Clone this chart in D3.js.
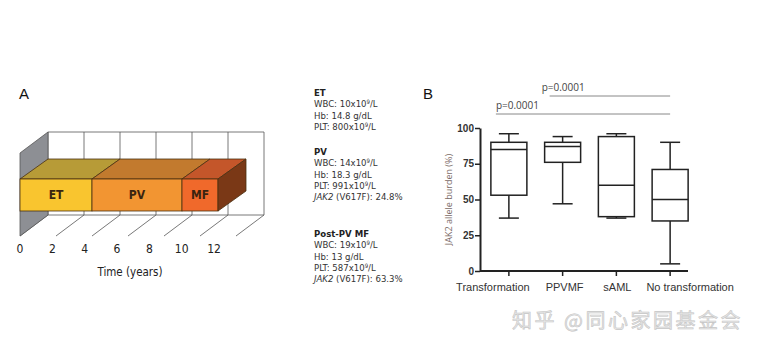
<!DOCTYPE html>
<html>
<head>
<meta charset="utf-8">
<script src="https://cdn.jsdelivr.net/npm/d3@7"></script>
<style>
  body { margin: 0; background: #fff; }
  svg { display: block; }
  .narrow { font-family: 'DejaVu Sans Condensed', 'DejaVu Sans', sans-serif; font-stretch: condensed; }
</style>
</head>
<body>
<script>
// chart size
var w = 759;
var h = 352;

// Panel A data: disease timeline (years)
var phases = ["ET", "PV", "MF"];
var phaseStart = [0, 4, 9];
var phaseEnd = [4, 9, 11];
var timeTicks = [0, 2, 4, 6, 8, 10, 12];

// Panel A side notes
var noteTitles = ["ET", "PV", "Post-PV MF"];
var noteWBC = ["10", "14", "19"];
var noteHb = ["14.8", "18.3", "13"];
var notePLT = ["800", "991", "587"];
var noteJAK2 = [null, "24.8%", "63.3%"];

// Panel B data: JAK2 allele burden box plots
var groups = ["Transformation", "PPVMF", "sAML", "No transformation"];
var whiskLow = [37, 47, 37, 5];
var q1 = [53, 76, 38, 35];
var median = [85, 87, 60, 50];
var q3 = [90, 90, 94, 71];
var whiskHigh = [96, 94, 96, 90];
var yTicks = [0, 25, 50, 75, 100];
var pLabels = ["p=0.0001", "p=0.0001"];
var pFrom = ["PPVMF", "Transformation"];
var pTo = ["No transformation", "No transformation"];

var sans = "'Liberation Sans', Arial, sans-serif";

var svg = d3.select("body")
  .append("svg")
  .attr("width", w)
  .attr("height", h);

svg.append("rect").attr("width", w).attr("height", h).attr("fill", "#fff");

// ---------------- Panel A ----------------
var gA = svg.append("g");

gA.append("text")
  .attr("x", 19).attr("y", 99)
  .attr("font-family", sans).attr("font-size", "15px")
  .attr("fill", "#111")
  .text("A");

var xA = d3.scaleLinear().domain([0, 12]).range([20, 236]);
var xLab = d3.scaleLinear().domain([0, 12]).range([20, 214]);
var dx = 28, dy = -20;
var wallTop = 132, floorBack = 215, floorFront = 236;
var barTop = 179, barBot = 211;
var gridCol = "#555";

// back wall verticals
gA.selectAll("line.vgrid")
  .data(timeTicks)
  .enter()
  .append("line")
  .attr("class", "vgrid")
  .attr("x1", function(d) { return xA(d) + dx; })
  .attr("x2", function(d) { return xA(d) + dx; })
  .attr("y1", wallTop)
  .attr("y2", floorBack)
  .attr("stroke", gridCol)
  .attr("stroke-width", 0.8);

gA.append("line")
  .attr("x1", xA(0) + dx).attr("x2", xA(12) + dx)
  .attr("y1", wallTop).attr("y2", wallTop)
  .attr("stroke", gridCol).attr("stroke-width", 0.8);

gA.append("line")
  .attr("x1", xA(0) + dx).attr("x2", xA(12) + dx)
  .attr("y1", floorBack).attr("y2", floorBack)
  .attr("stroke", gridCol).attr("stroke-width", 0.8);

// floor diagonals
gA.selectAll("line.floor")
  .data(timeTicks)
  .enter()
  .append("line")
  .attr("class", "floor")
  .attr("x1", function(d) { return xA(d); })
  .attr("x2", function(d) { return xA(d) + dx; })
  .attr("y1", floorFront)
  .attr("y2", floorBack)
  .attr("stroke", gridCol)
  .attr("stroke-width", 0.8);

// left side wall
gA.append("polygon")
  .attr("points", [[xA(0), wallTop - dy + 1], [xA(0) + dx, wallTop], [xA(0) + dx, floorBack], [xA(0), floorFront]].join(" "))
  .attr("fill", "#8d8f94")
  .attr("stroke", "#555")
  .attr("stroke-width", 0.8);

var frontCol = ["#f9c52f", "#f29532", "#f0692b"];
var topCol = ["#b79b37", "#c27a2e", "#c4562a"];
var sideCol = "#7a3816";
var edge = "#4a3010";

// bar tops
gA.selectAll("polygon.top")
  .data(phases)
  .enter()
  .append("polygon")
  .attr("class", "top")
  .attr("points", function(d, i) {
    var a = xA(phaseStart[i]), b = xA(phaseEnd[i]);
    return [[a, barTop], [b, barTop], [b + dx, barTop + dy], [a + dx, barTop + dy]].join(" ");
  })
  .attr("fill", function(d, i) { return topCol[i]; })
  .attr("stroke", edge)
  .attr("stroke-width", 0.8);

// bar fronts
gA.selectAll("rect.front")
  .data(phases)
  .enter()
  .append("rect")
  .attr("class", "front")
  .attr("x", function(d, i) { return xA(phaseStart[i]); })
  .attr("y", barTop)
  .attr("width", function(d, i) { return xA(phaseEnd[i]) - xA(phaseStart[i]); })
  .attr("height", barBot - barTop)
  .attr("fill", function(d, i) { return frontCol[i]; })
  .attr("stroke", edge)
  .attr("stroke-width", 0.8);

// right side of last bar
var lastEnd = xA(phaseEnd[phaseEnd.length - 1]);
gA.append("polygon")
  .attr("points", [[lastEnd, barTop], [lastEnd + dx, barTop + dy], [lastEnd + dx, barBot + dy], [lastEnd, barBot]].join(" "))
  .attr("fill", sideCol)
  .attr("stroke", edge)
  .attr("stroke-width", 0.8);

gA.selectAll("text.phase")
  .data(phases)
  .enter()
  .append("text")
  .attr("class", "phase narrow")
  .attr("x", function(d, i) { return (xA(phaseStart[i]) + xA(phaseEnd[i])) / 2; })
  .attr("y", (barTop + barBot) / 2 + 4)
  .attr("text-anchor", "middle")
  .attr("font-weight", "bold")
  .attr("font-size", "12px")
  .attr("fill", "#3a2410")
  .text(function(d) { return d; });

gA.selectAll("text.tick")
  .data(timeTicks)
  .enter()
  .append("text")
  .attr("class", "tick narrow")
  .attr("x", function(d) { return xLab(d); })
  .attr("y", 253)
  .attr("text-anchor", "middle")
  .attr("font-size", "12px")
  .attr("fill", "#222")
  .text(function(d) { return d; });

gA.append("text")
  .attr("class", "narrow")
  .attr("x", 130).attr("y", 276)
  .attr("text-anchor", "middle")
  .attr("font-size", "11.5px")
  .attr("fill", "#222")
  .text("Time (years)");

// side notes
var noteTop = [96, 155, 237];
var lh = 11.3;
noteTitles.forEach(function(t, i) {
  var g = gA.append("text")
    .attr("class", "narrow")
    .attr("font-size", "9.5px")
    .attr("fill", "#333");
  var y0 = noteTop[i];
  g.append("tspan").attr("x", 314).attr("y", y0)
    .attr("font-weight", "bold").attr("fill", "#222").text(t);
  var wl = g.append("tspan").attr("x", 314).attr("y", y0 + lh);
  wl.append("tspan").text("WBC: " + noteWBC[i] + "x10");
  wl.append("tspan").attr("dy", -3).attr("font-size", "6px").text("9");
  wl.append("tspan").attr("dy", 3).text("/L");
  g.append("tspan").attr("x", 314).attr("y", y0 + 2 * lh).text("Hb: " + noteHb[i] + " g/dL");
  var pl = g.append("tspan").attr("x", 314).attr("y", y0 + 3 * lh);
  pl.append("tspan").text("PLT: " + notePLT[i] + "x10");
  pl.append("tspan").attr("dy", -3).attr("font-size", "6px").text("9");
  pl.append("tspan").attr("dy", 3).text("/L");
  if (noteJAK2[i]) {
    var jl = g.append("tspan").attr("x", 314).attr("y", y0 + 4 * lh);
    jl.append("tspan").attr("font-style", "italic").text("JAK2");
    jl.append("tspan").text(" (V617F): " + noteJAK2[i]);
  }
});

// ---------------- Panel B ----------------
var gB = svg.append("g");

gB.append("text")
  .attr("x", 423).attr("y", 99)
  .attr("font-family", sans).attr("font-size", "15px")
  .attr("fill", "#111")
  .text("B");

var xB = d3.scaleBand().domain(groups).range([482, 697]).padding(0);
var yB = d3.scaleLinear().domain([0, 100]).range([271, 128]);
var boxW = 36, capW = 20;
var ink = "#222";

var yAxis = gB.append("g")
  .attr("transform", "translate(480,0)")
  .call(d3.axisLeft(yB).tickValues(yTicks).tickSize(5).tickSizeOuter(0));
yAxis.select(".domain").attr("stroke", ink).attr("stroke-width", 2);
yAxis.selectAll(".tick line").attr("stroke", ink).attr("stroke-width", 1.5);
yAxis.selectAll(".tick text")
  .attr("font-family", sans).attr("font-size", "10px")
  .attr("font-weight", "bold").attr("fill", "#333").attr("x", -6);

// category labels sit spread out a little from their ticks in the original
var labelShift = [-16, 2, 1, 20];
var xAxis = gB.append("g")
  .attr("transform", "translate(0,271)")
  .call(d3.axisBottom(xB).tickSize(5).tickSizeOuter(0));
xAxis.select(".domain").attr("d", "M480,0H688").attr("stroke", ink).attr("stroke-width", 2);
xAxis.selectAll(".tick line").attr("stroke", ink).attr("stroke-width", 1.5);
xAxis.selectAll(".tick text")
  .attr("font-family", sans).attr("font-size", "11px")
  .attr("fill", "#333").attr("y", 12)
  .attr("x", function(d, i) { return labelShift[i]; });

gB.append("text")
  .attr("transform", "translate(452," + yB(50) + ") rotate(-90)")
  .attr("text-anchor", "middle")
  .attr("font-family", "'Open Sans', sans-serif")
  .attr("font-size", "9px")
  .attr("fill", "#7a6a66")
  .text("JAK2 allele burden (%)");

var cx = function(d) { return xB(d) + xB.bandwidth() / 2; };

// whiskers
gB.selectAll("line.whisk")
  .data(groups)
  .enter()
  .append("line")
  .attr("class", "whisk")
  .attr("x1", cx).attr("x2", cx)
  .attr("y1", function(d, i) { return yB(whiskLow[i]); })
  .attr("y2", function(d, i) { return yB(whiskHigh[i]); })
  .attr("stroke", ink).attr("stroke-width", 1.5);

[whiskLow, whiskHigh].forEach(function(arr) {
  gB.selectAll(null)
    .data(groups)
    .enter()
    .append("line")
    .attr("x1", function(d) { return cx(d) - capW / 2; })
    .attr("x2", function(d) { return cx(d) + capW / 2; })
    .attr("y1", function(d, i) { return yB(arr[i]); })
    .attr("y2", function(d, i) { return yB(arr[i]); })
    .attr("stroke", ink).attr("stroke-width", 1.5);
});

gB.selectAll("rect.box")
  .data(groups)
  .enter()
  .append("rect")
  .attr("class", "box")
  .attr("x", function(d) { return cx(d) - boxW / 2; })
  .attr("y", function(d, i) { return yB(q3[i]); })
  .attr("width", boxW)
  .attr("height", function(d, i) { return yB(q1[i]) - yB(q3[i]); })
  .attr("fill", "#fff")
  .attr("stroke", ink).attr("stroke-width", 1.5);

gB.selectAll("line.med")
  .data(groups)
  .enter()
  .append("line")
  .attr("class", "med")
  .attr("x1", function(d) { return cx(d) - boxW / 2; })
  .attr("x2", function(d) { return cx(d) + boxW / 2; })
  .attr("y1", function(d, i) { return yB(median[i]); })
  .attr("y2", function(d, i) { return yB(median[i]); })
  .attr("stroke", ink).attr("stroke-width", 1.5);

// significance lines
var pY = [96, 114];
var pTextGap = [8, 0];
pLabels.forEach(function(lbl, i) {
  var x1 = cx(pFrom[i]) - 13;
  gB.append("line")
    .attr("x1", x1).attr("x2", cx(pTo[i]))
    .attr("y1", pY[i]).attr("y2", pY[i])
    .attr("stroke", "#888").attr("stroke-width", 1);
  gB.append("text")
    .attr("x", x1 - pTextGap[i]).attr("y", pY[i] - 5)
    .attr("font-family", "'Open Sans', sans-serif")
    .attr("font-size", "10px")
    .attr("fill", "#444")
    .text(lbl);
});

// watermark
svg.append("text")
  .attr("x", 512).attr("y", 328)
  .attr("font-family", "'Noto Sans CJK SC', sans-serif")
  .attr("font-size", "20px")
  .attr("letter-spacing", "2.5px")
  .attr("fill", "#e6e6e6")
  .attr("stroke", "#c6c6c6")
  .attr("stroke-width", 0.6)
  .text("知乎 @同心家园基金会");
</script>
</body>
</html>
